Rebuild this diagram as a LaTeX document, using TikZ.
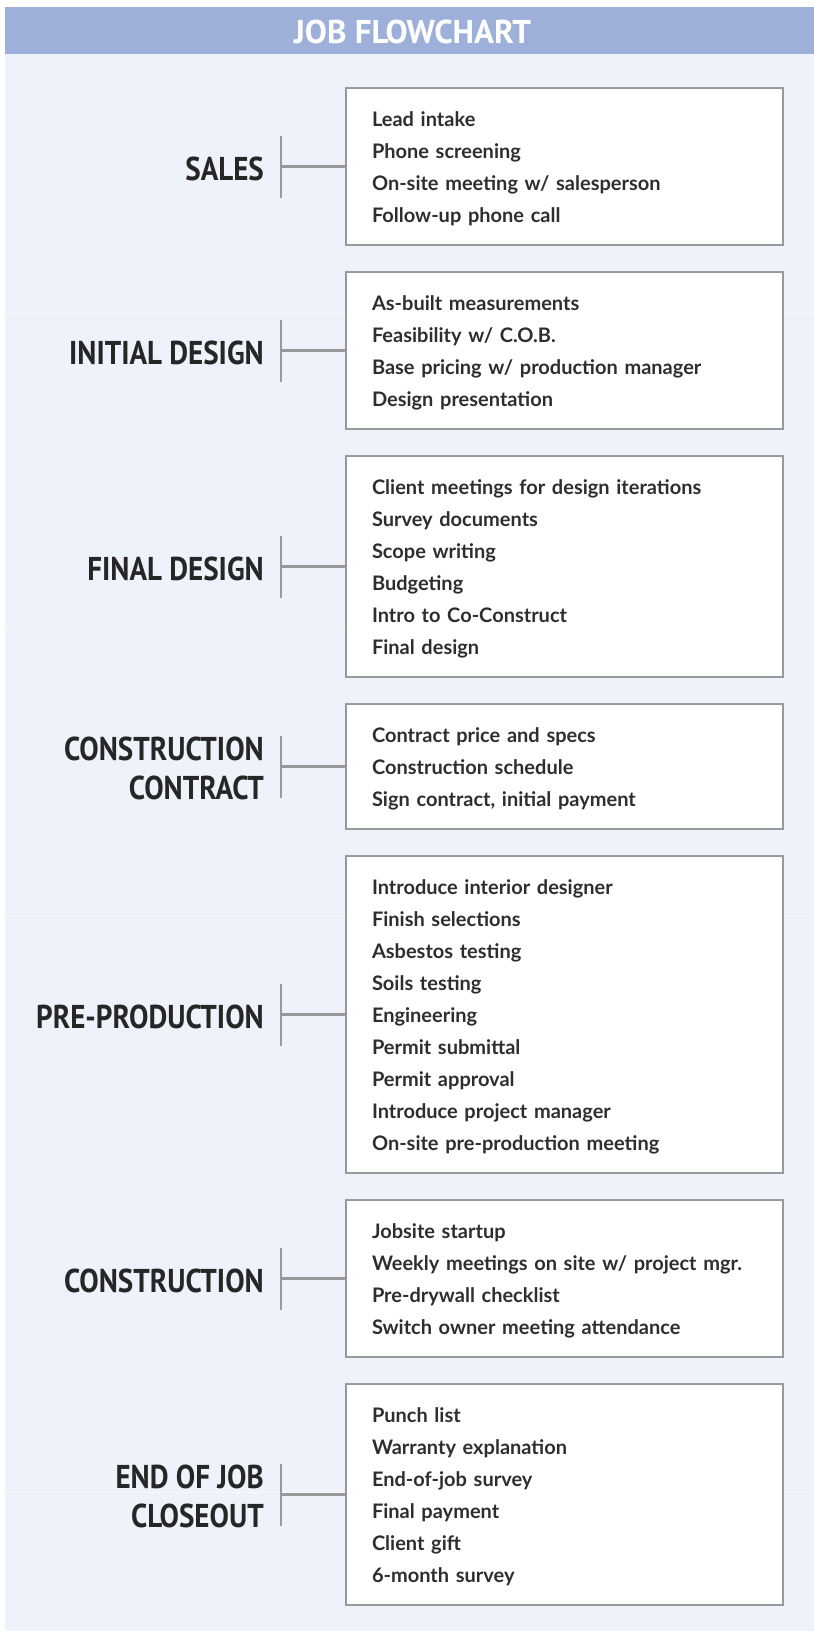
\documentclass[tikz,border=0pt]{standalone}
\usepackage{fontspec}
\newfontfamily\itemfont{Lato}
\newfontfamily\labelfont{PT Sans}[FakeStretch=0.88]
\newfontfamily\headfont{PT Sans}
\definecolor{headblue}{HTML}{9CB0D9}
\definecolor{pagebg}{HTML}{EEF2FA}
\definecolor{seam}{HTML}{F6F8FD}
\definecolor{rulegrey}{HTML}{999999}
\definecolor{itemtext}{HTML}{2E2E2E}
\definecolor{labeltext}{HTML}{262626}
\tikzset{
  stagebox/.style={draw=rulegrey, line width=2.5pt, fill=white, rectangle,
    minimum width=437pt, text width=385pt, inner xsep=26pt, inner ysep=0pt,
    execute at begin node={\rule{0pt}{20pt}},
    align=left, text=itemtext, font=\itemfont\bfseries\fontsize{20}{32}\selectfont},
  stagelabel/.style={anchor=east, align=right, inner sep=0pt, text=labeltext,
    font=\labelfont\bfseries\fontsize{33}{39.5}\selectfont},
  bracket/.style={draw=rulegrey, line width=2.5pt},
}
% \stage{name}{centre y}{box height}{label}{items}
\newcommand\stage[5]{%
  \node[stagebox, minimum height=#3pt] (box#1) at (564.5,#2) {#5};
  \node[stagelabel] (lab#1) at (264,#2+2) {#4};
  \coordinate (j#1) at (281,#2);
  \draw[bracket] (j#1) -- (box#1.west);
  \draw[bracket] ([yshift=31pt]j#1) -- ([yshift=-31pt]j#1);
}
\begin{document}
\begin{tikzpicture}[x=1pt,y=-1pt]
\useasboundingbox (0,0) rectangle (814,1631);
\fill[pagebg] (5,7) rectangle (814,1631);
\foreach \s in {312,629,916,1492} \draw[seam, line width=1pt] (5,\s) -- (814,\s);
\fill[headblue] (5,7) rectangle (814,54);
\node[text=white, font=\headfont\bfseries\fontsize{33}{33}\selectfont, inner sep=0pt] (title) at (412.5,31.5) {JOB FLOWCHART};

\stage{1}{166.5}{157}{SALES}{Lead intake\\Phone screening\\On-site meeting w/ salesperson\\Follow-up phone call}
\stage{2}{350.5}{157}{INITIAL DESIGN}{As-built measurements\\Feasibility w/ C.O.B.\\Base pricing w/ production manager\\Design presentation}
\stage{3}{566.5}{221}{FINAL DESIGN}{Client meetings for design iterations\\Survey documents\\Scope writing\\Budgeting\\Intro to Co-Construct\\Final design}
\stage{4}{766.5}{125}{CONSTRUCTION\\CONTRACT}{Contract price and specs\\Construction schedule\\Sign contract, initial payment}
\stage{5}{1014.5}{317}{PRE-PRODUCTION}{Introduce interior designer\\Finish selections\\Asbestos testing\\Soils testing\\Engineering\\Permit submittal\\Permit approval\\Introduce project manager\\On-site pre-production meeting}
\stage{6}{1278.5}{157}{CONSTRUCTION}{Jobsite startup\\Weekly meetings on site w/ project mgr.\\Pre-drywall checklist\\Switch owner meeting attendance}
\stage{7}{1494.5}{221}{END OF JOB\\CLOSEOUT}{Punch list\\Warranty explanation\\End-of-job survey\\Final payment\\Client gift\\6-month survey}
\end{tikzpicture}
\end{document}
